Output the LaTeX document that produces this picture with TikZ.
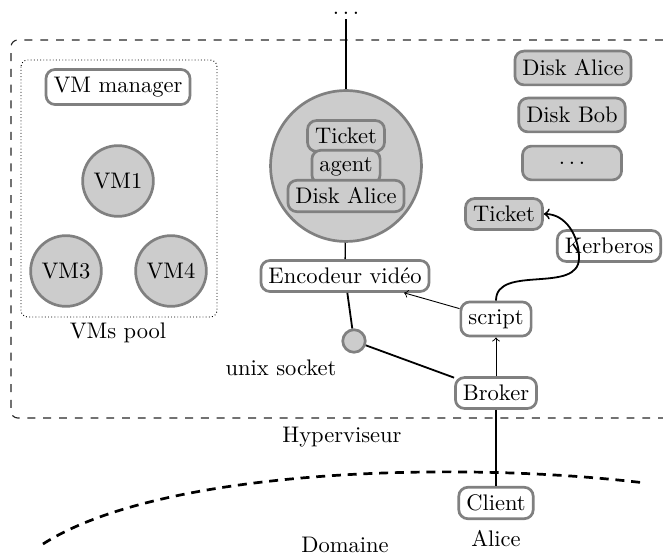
\documentclass[tikz,border=0pt]{standalone}
\usepackage{tikz}
\usetikzlibrary{positioning}

\begin{document}
\begin{tikzpicture}[x=0.444pt, y=-0.444pt,
  wbox/.style={draw=gray, very thick, rounded corners=4pt, fill=white},
  gbox/.style={wbox, fill=black!20},
  vmnode/.style={circle, draw=gray, very thick, fill=black!20}]
  \useasboundingbox (0,0) rectangle (663,557);

  % hyperviseur and domaine
  \draw[black!85, line width=0.5pt, dash pattern=on 3.5pt off 3.5pt, rounded corners=3pt]
    (663,40) -- (11,40) -- (11,418) -- (663,418);
  \node (hyper) at (342,437) {Hyperviseur};
  \draw[very thick, dash pattern=on 4pt off 3pt]
    (43,544) .. controls (163,467) and (465,461) .. (645,483);
  \node (domaine) at (345,545) {Domaine};

  % VMs pool
  \draw[densely dotted, rounded corners=3pt] (21,60) rectangle (217,317);
  \node (pool) at (118,333) {VMs pool};
  \node[wbox] (manager) at (118,87) {VM manager};
  \node[vmnode] (vm1) at (118,181) {VM1};
  \node[vmnode] (vm3) at (66,271) {VM3};
  \node[vmnode] (vm4) at (171,271) {VM4};

  % running VM
  \node[inner sep=2pt] (etc) at (346,13) {$\ldots$};
  \node[vmnode, minimum size=67pt] (vm2) at (346,166) {};
  \node[gbox] (ticketvm) at (346,136) {Ticket};
  \node[gbox] (agent) at (346,167) {agent};
  \node[gbox] (diskvm) at (346,196) {Disk Alice};
  \node[wbox] (encodeur) at (345,276) {Encodeur vidéo};
  \node[vmnode, minimum size=10pt] (socket) at (354,341) {};
  \node (socketlbl) at (281,368) {unix socket};
  \draw[semithick] (etc) -- (vm2);
  \draw[semithick] (vm2) -- (encodeur);

  % disks
  \node[gbox, minimum height=15pt] (diskalice) at (573,68) {Disk Alice};
  \node[gbox, minimum height=15pt] (diskbob) at (572,115) {Disk Bob};
  \node[gbox, minimum height=15pt, minimum width=44pt] (diskmore) at (572,163) {$\ldots$};

  % broker side
  \node[gbox] (ticket) at (504,214) {Ticket};
  \node[wbox] (kerberos) at (609,246) {Kerberos};
  \node[wbox] (script) at (496,319) {script};
  \node[wbox] (broker) at (496,393) {Broker};
  \node[wbox] (client) at (496,503) {Client};
  \node[below=1pt of client] (alice) {Alice};

  \draw[thick] (encodeur) -- (socket);
  \draw[thick] (socket) -- (broker);
  \draw[thick] (broker) -- (client);
  \draw[->] (broker) -- (script);
  \draw[->] (script) -- (encodeur);
  \coordinate (bend) at (579,258);
  \draw[thick, ->] (script.north) to[out=90,in=-90] (bend)
    to[out=90,in=0] (ticket.east);
\end{tikzpicture}
\end{document}
